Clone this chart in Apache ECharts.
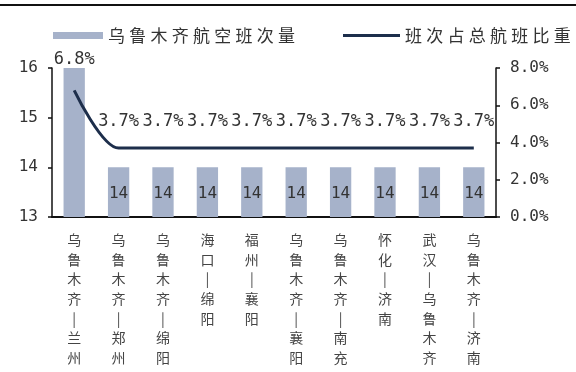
<!DOCTYPE html>
<html>
<head>
<meta charset="utf-8">
<script src="https://cdn.jsdelivr.net/npm/echarts@6/dist/echarts.min.js"></script>
<style>
  html, body { margin: 0; padding: 0; background: #ffffff; }
  #chart { width: 576px; height: 372px; }
</style>
</head>
<body>
<div id="chart"></div>
<script>
// Routes (x axis categories)
const routes = [
  '乌鲁木齐-兰州', '乌鲁木齐-郑州', '乌鲁木齐-绵阳', '海口-绵阳', '福州-襄阳',
  '乌鲁木齐-襄阳', '乌鲁木齐-南充', '怀化-济南', '武汉-乌鲁木齐', '乌鲁木齐-济南'
];
// Weekly flights operated by Urumqi Air on each route
const flights = [16, 14, 14, 14, 14, 14, 14, 14, 14, 14];
// Share of the airline's total flights, in percent
const share = [6.8, 3.7, 3.7, 3.7, 3.7, 3.7, 3.7, 3.7, 3.7, 3.7];

const barName = '乌鲁木齐航空班次量';
const lineName = '班次占总航班比重';

const BAR_COLOR = '#a6b2ca';
const LINE_COLOR = '#1d2e4b';
const TEXT = '#333333';
const MONO = '"DejaVu Sans Mono", monospace';
const CJK = '"Noto Sans CJK SC", sans-serif';

// widen the legend caption a little, one spacer between glyphs
const spaced = s => s.split('').join('\u2005');
// stack route names vertically, the dash drawn as a short upright bar
const vertical = s => s.split('').map(c => (c === '-' ? '|' : c)).join('\n');

const chart = echarts.init(document.getElementById('chart'), null, { renderer: 'canvas' });

const option = {
  backgroundColor: '#ffffff',
  animation: false,
  graphic: [{
    type: 'line',
    shape: { x1: 0, y1: 5, x2: 576, y2: 5 },
    style: { stroke: '#111111', lineWidth: 2 }
  }],
  legend: [
    {
      data: [{ name: barName, icon: 'rect' }], left: 53, top: 27, padding: 0,
      itemWidth: 50, itemHeight: 7,
      formatter: spaced,
      textStyle: { fontFamily: CJK, fontSize: 17, color: TEXT }
    },
    {
      data: [{ name: lineName, icon: 'rect' }], left: 343, top: 27, padding: 0,
      itemWidth: 57, itemHeight: 3,
      formatter: spaced,
      textStyle: { fontFamily: CJK, fontSize: 17, color: TEXT }
    }
  ],
  grid: {
    left: 52, right: 80, top: 68, bottom: 155,
    containLabel: false, outerBoundsMode: 'none'
  },
  xAxis: {
    type: 'category',
    data: routes,
    axisLine: { lineStyle: { color: '#111111', width: 2 } },
    axisTick: { show: false },
    axisLabel: {
      interval: 0, margin: 13,
      formatter: vertical,
      fontFamily: CJK, fontSize: 14, lineHeight: 19.6, color: '#444444',
      verticalAlign: 'top'
    }
  },
  yAxis: [
    {
      type: 'value', min: 13, max: 16, interval: 1,
      splitLine: { show: false },
      axisLine: { show: true, lineStyle: { color: '#111111', width: 1.5 } },
      axisTick: { show: true, length: 4, lineStyle: { color: '#111111', width: 1.5 } },
      axisLabel: { margin: 14, fontFamily: MONO, fontSize: 16, color: TEXT }
    },
    {
      type: 'value', min: 0, max: 8, interval: 2,
      splitLine: { show: false },
      axisLine: { show: true, lineStyle: { color: '#111111', width: 1.5 } },
      axisTick: { show: true, length: 4, lineStyle: { color: '#111111', width: 1.5 } },
      axisLabel: {
        margin: 14, fontFamily: MONO, fontSize: 16, color: TEXT,
        formatter: v => v.toFixed(1) + '%'
      }
    }
  ],
  series: [
    {
      name: barName,
      type: 'bar',
      yAxisIndex: 0,
      barWidth: '48%',
      itemStyle: { color: BAR_COLOR },
      data: flights.map((v, i) => ({
        value: v,
        label: { show: i > 0 }
      })),
      label: {
        position: 'inside', offset: [0, 2],
        fontFamily: MONO, fontSize: 16, color: TEXT
      }
    },
    {
      name: lineName,
      type: 'line',
      yAxisIndex: 1,
      smooth: 0.3,
      symbol: 'circle',
      symbolSize: 0.1,
      showSymbol: true,
      lineStyle: { color: LINE_COLOR, width: 3 },
      itemStyle: { color: LINE_COLOR },
      data: share.map((v, i) => ({
        value: v,
        label: { distance: i === 0 ? 22 : 18 }
      })),
      label: {
        show: true, position: 'top',
        fontFamily: MONO, fontSize: 17, color: TEXT,
        formatter: p => p.value.toFixed(1) + '%'
      },
      labelLayout: { hideOverlap: false }
    }
  ]
};

chart.setOption(option);
</script>
</body>
</html>
